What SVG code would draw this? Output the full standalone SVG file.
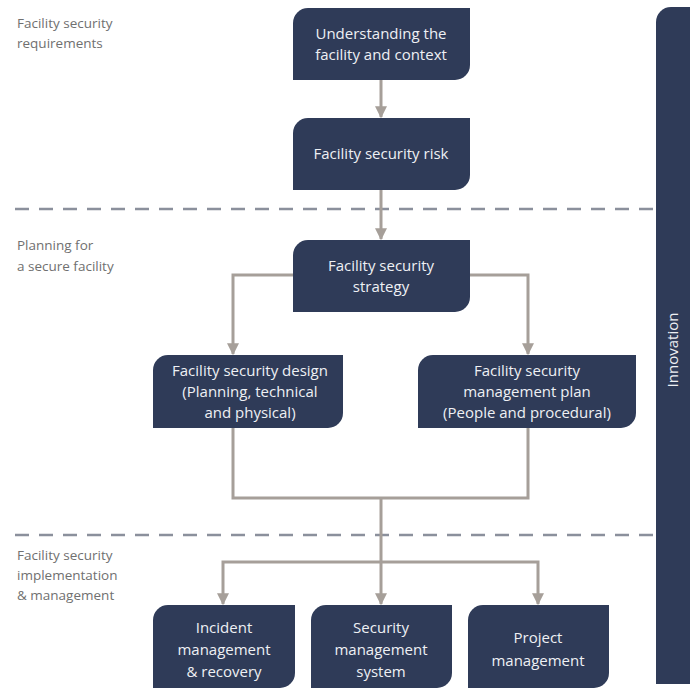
<svg xmlns="http://www.w3.org/2000/svg" width="690" height="690" viewBox="0 0 690 690">
<style>
.node{fill:#2f3b58}
.nt{font-family:"Open Sans","Noto Sans",sans-serif;font-size:15px;fill:#eef0f4;text-anchor:middle}
.lbl{font-family:"Open Sans","Noto Sans",sans-serif;font-size:13.5px;fill:#707070}
.conn{fill:none;stroke:#a69f99;stroke-width:3}
.dash{stroke:#8b909c;stroke-width:2.5;stroke-dasharray:14 10}
</style>
<defs>
<marker id="ah" viewBox="0 0 10 10" refX="9" refY="5" markerWidth="4" markerHeight="4" orient="auto" markerUnits="strokeWidth">
<path d="M0,0 L10,5 L0,10 z" fill="#a69f99"/>
</marker>
</defs>
<rect width="690" height="690" fill="#ffffff"/>
<g id="dividers">
<line class="dash" x1="15" y1="209" x2="655" y2="209"/>
<line class="dash" x1="15" y1="535" x2="655" y2="535"/>
</g>
<g id="labels">
<text class="lbl" x="17" y="28">Facility security</text>
<text class="lbl" x="17" y="48">requirements</text>
<text class="lbl" x="17" y="250">Planning for</text>
<text class="lbl" x="17" y="271">a secure facility</text>
<text class="lbl" x="17" y="560">Facility security</text>
<text class="lbl" x="17" y="580">implementation</text>
<text class="lbl" x="17" y="600">&amp; management</text>
</g>
<g id="connectors">
<line class="conn" x1="381" y1="80" x2="381" y2="117" marker-end="url(#ah)"/>
<line class="conn" x1="381" y1="190" x2="381" y2="239" marker-end="url(#ah)"/>
<polyline class="conn" points="293,275 233,275 233,354" marker-end="url(#ah)"/>
<polyline class="conn" points="470,275 528,275 528,354" marker-end="url(#ah)"/>
<polyline class="conn" points="233,428 233,498 528,498 528,428"/>
<line class="conn" x1="381" y1="498" x2="381" y2="604" marker-end="url(#ah)"/>
<polyline class="conn" points="381,562 223,562 223,604" marker-end="url(#ah)"/>
<polyline class="conn" points="381,562 538,562 538,604" marker-end="url(#ah)"/>
</g>
<g id="n1">
<path class="node" d="M308,8 H470 V65 A15,15 0 0 1 455,80 H293 V23 A15,15 0 0 1 308,8 Z"/>
<text class="nt" x="381" y="39">Understanding the</text>
<text class="nt" x="381" y="60">facility and context</text>
</g>
<g id="n2">
<path class="node" d="M308,118 H470 V175 A15,15 0 0 1 455,190 H293 V133 A15,15 0 0 1 308,118 Z"/>
<text class="nt" x="381" y="159">Facility security risk</text>
</g>
<g id="n3">
<path class="node" d="M308,240 H470 V297 A15,15 0 0 1 455,312 H293 V255 A15,15 0 0 1 308,240 Z"/>
<text class="nt" x="381" y="271">Facility security</text>
<text class="nt" x="381" y="292">strategy</text>
</g>
<g id="n4">
<path class="node" d="M168,355 H343 V413 A15,15 0 0 1 328,428 H153 V370 A15,15 0 0 1 168,355 Z"/>
<text class="nt" x="250" y="376">Facility security design</text>
<text class="nt" x="250" y="397">(Planning, technical</text>
<text class="nt" x="250" y="418">and physical)</text>
</g>
<g id="n5">
<path class="node" d="M433,355 H636 V413 A15,15 0 0 1 621,428 H418 V370 A15,15 0 0 1 433,355 Z"/>
<text class="nt" x="527" y="376">Facility security</text>
<text class="nt" x="527" y="397">management plan</text>
<text class="nt" x="527" y="418">(People and procedural)</text>
</g>
<g id="n6">
<path class="node" d="M168,605 H295 V673 A15,15 0 0 1 280,688 H153 V620 A15,15 0 0 1 168,605 Z"/>
<text class="nt" x="224" y="633">Incident</text>
<text class="nt" x="224" y="655">management</text>
<text class="nt" x="224" y="677">&amp; recovery</text>
</g>
<g id="n7">
<path class="node" d="M326,605 H452 V673 A15,15 0 0 1 437,688 H311 V620 A15,15 0 0 1 326,605 Z"/>
<text class="nt" x="381" y="633">Security</text>
<text class="nt" x="381" y="655">management</text>
<text class="nt" x="381" y="677">system</text>
</g>
<g id="n8">
<path class="node" d="M483,605 H609 V673 A15,15 0 0 1 594,688 H468 V620 A15,15 0 0 1 483,605 Z"/>
<text class="nt" x="538" y="643">Project</text>
<text class="nt" x="538" y="666">management</text>
</g>
<g id="innovation">
<path class="node" d="M671,7 H700 V684 H656 V22 A15,15 0 0 1 671,7 Z"/>
<text class="nt" transform="translate(678,350) rotate(-90)" x="0" y="0">Innovation</text>
</g>
</svg>
